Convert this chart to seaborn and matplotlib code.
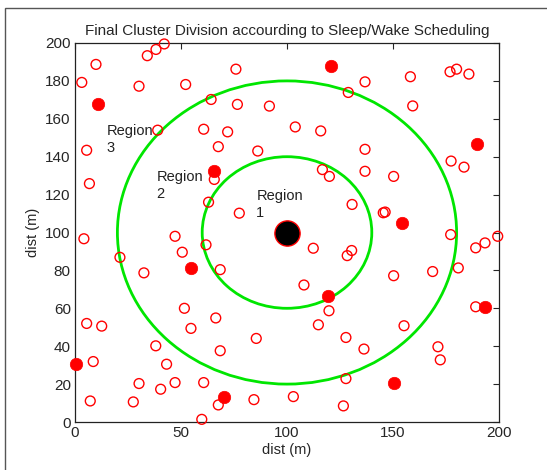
import matplotlib
matplotlib.use("Agg")
import matplotlib.pyplot as plt
from matplotlib.patches import Circle, Rectangle
import seaborn as sns
import pandas as pd

# --- DATA ---
node_x = [9.9, 3.2, 34.1, 38.2, 42.1, 30.2, 52.2, 75.9, 64.2, 76.6, 91.7, 103.9,
          39.0, 60.7, 72.0, 67.6, 86.2, 5.5, 6.8, 65.7, 63.0, 77.5,
          136.8, 128.9, 158.2, 176.9, 180.0, 185.8, 159.3, 115.9, 136.8, 136.8,
          177.4, 183.5, 116.7, 120.0, 150.3, 130.7, 145.4, 146.3,
          4.2, 47.2, 50.6, 61.8, 21.2, 68.5, 32.5, 51.6, 66.4, 54.7, 5.5, 12.6,
          85.5, 38.1, 68.5, 8.6, 43.2, 30.2, 40.4, 47.2, 60.7, 7.2, 27.5, 67.6,
          84.4, 59.8, 103.0,
          177.2, 112.4, 130.5, 128.4, 189.0, 193.4, 199.4, 168.7, 180.8, 150.3,
          108.0, 119.8, 189.0, 114.8, 155.2, 127.8, 136.3, 171.2, 172.3, 127.8, 126.6]
node_y = [188.7, 179.2, 193.3, 196.6, 199.5, 177.2, 178.1, 186.2, 170.2, 167.6, 166.7, 155.7,
          154.0, 154.5, 153.1, 145.3, 143.0, 143.4, 125.8, 128.0, 116.0, 110.2,
          179.5, 173.9, 182.2, 184.8, 186.2, 183.6, 166.8, 153.6, 143.9, 132.3,
          137.7, 134.5, 133.2, 129.6, 129.6, 114.8, 110.4, 110.8,
          96.7, 98.0, 89.6, 93.5, 86.9, 80.4, 78.7, 60.0, 54.9, 49.4, 52.0, 50.6,
          44.1, 40.2, 37.6, 31.9, 30.5, 20.3, 17.3, 20.8, 20.8, 11.1, 10.6, 9.0,
          11.8, 1.4, 13.4,
          98.9, 91.7, 90.5, 87.8, 91.9, 94.5, 98.0, 79.4, 81.3, 77.2,
          72.3, 58.7, 60.8, 51.3, 50.8, 44.6, 38.5, 39.7, 32.8, 22.9, 8.5]

head_x = [120.6, 10.7, 65.7, 189.5, 154.2, 54.7, 119.2, 193.4, 0.3, 70.3, 150.3]
head_y = [187.8, 167.6, 132.3, 146.9, 105.1, 81.1, 66.7, 60.8, 30.5, 13.4, 20.8]

sink_x = [100]
sink_y = [100]

ring_radii = [40, 80]

region_labels = ["Region\n1", "Region\n2", "Region\n3"]
region_x = [85.5, 38.5, 15.0]
region_y = [123, 133, 157]

x_ticks = [0, 50, 100, 150, 200]
y_ticks = list(range(0, 201, 20))

nodes = pd.DataFrame({"x": node_x, "y": node_y})
heads = pd.DataFrame({"x": head_x, "y": head_y})
sink = pd.DataFrame({"x": sink_x, "y": sink_y})

sns.set_style("white")
plt.rcParams["font.family"] = ["Liberation Sans", "DejaVu Sans"]

fig = plt.figure(figsize=(5.47, 4.70), dpi=100)
ax = fig.add_axes([75 / 547, 1 - 422 / 470, 424 / 547, 379 / 470])

# outer frame of the original window
fig.patches.append(Rectangle((5 / 547, -0.1), 1.2, (470 - 8) / 470 + 0.1,
                             transform=fig.transFigure, fill=False,
                             edgecolor="#555555", linewidth=1.0))

for r in ring_radii:
    ax.add_patch(Circle((sink_x[0], sink_y[0]), r, fill=False,
                        edgecolor="#00e600", linewidth=2.0, zorder=1))

sns.scatterplot(data=nodes, x="x", y="y", ax=ax, marker="o", s=50,
                facecolor="none", edgecolor="red", linewidth=1.0, zorder=3,
                clip_on=False)
sns.scatterplot(data=heads, x="x", y="y", ax=ax, marker="o", s=80,
                color="red", edgecolor="red", linewidth=0.5, zorder=4,
                clip_on=False)
sns.scatterplot(data=sink, x="x", y="y", ax=ax, marker="o", s=330,
                color="black", edgecolor="red", linewidth=1.0, zorder=5)

for lbl, tx, ty in zip(region_labels, region_x, region_y):
    ax.text(tx, ty, lbl, fontsize=10.5, va="top", ha="left",
            color="#222222", linespacing=1.25, zorder=6)

ax.set_xlim(0, 200)
ax.set_ylim(0, 200)
ax.set_xticks(x_ticks)
ax.set_yticks(y_ticks)
ax.tick_params(direction="in", top=True, right=True, length=4,
               labelsize=11, width=0.8, pad=3)
for sp in ax.spines.values():
    sp.set_visible(True)
    sp.set_color("#222222")
    sp.set_linewidth(0.9)

ax.set_xlabel("dist (m)", fontsize=10.5, labelpad=2)
ax.set_ylabel("dist (m)", fontsize=10.5, labelpad=4)
ax.set_title("Final Cluster Division accourding to Sleep/Wake Scheduling",
             fontsize=11, pad=6)

fig.savefig("out.png", dpi=100)
